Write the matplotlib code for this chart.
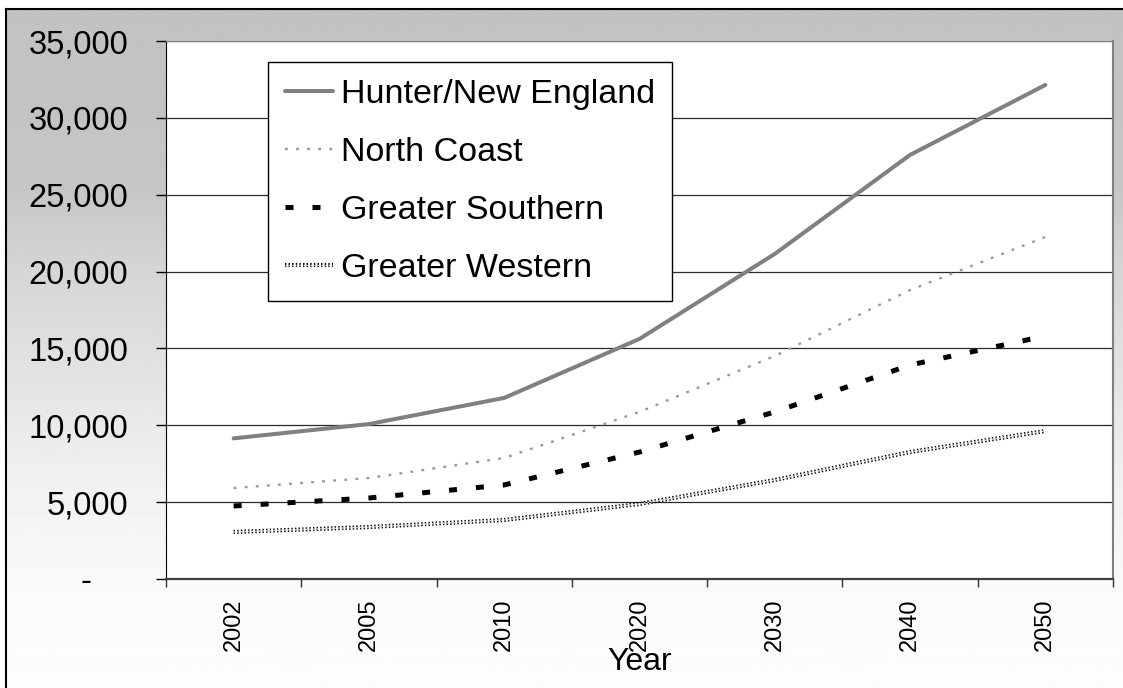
import matplotlib.pyplot as plt
import numpy as np
from matplotlib import patheffects as pe
from matplotlib.ticker import FuncFormatter, FixedLocator

plt.rcParams['font.family'] = ['Liberation Sans', 'DejaVu Sans']

# Data
years = ["2002", "2005", "2010", "2020", "2030", "2040", "2050"]
hunter = [9150, 10080, 11780, 15620, 21150, 27590, 32140]
north_coast = [5920, 6570, 7870, 10870, 14510, 18800, 22250]
greater_southern = [4750, 5270, 6120, 8260, 10870, 13920, 15810]
greater_western = [3060, 3380, 3840, 4880, 6440, 8260, 9630]

fig = plt.figure(figsize=(11.23, 6.88), dpi=100)
fig.patch.set_facecolor('white')

# grey gradient background with a black frame on the left/top
bg = fig.add_axes([6 / 1123, 0, 1 - 6 / 1123, 1 - 9 / 688], zorder=-5)
rows = np.arange(688)
shade = np.interp(rows, [0, 180, 262, 425, 500, 600, 688],
                  [0.76, 0.775, 0.835, 0.918, 0.953, 0.984, 0.992])
bg.imshow(np.repeat(shade[:, None], 2, axis=1), cmap='gray', vmin=0, vmax=1,
          aspect='auto', extent=[0, 1, 0, 1])
bg.set_xticks([])
bg.set_yticks([])
for side in ['right', 'bottom']:
    bg.spines[side].set_visible(False)
for side in ['left', 'top']:
    bg.spines[side].set_linewidth(1.5)
    bg.spines[side].set_color('black')

ax = fig.add_axes([166 / 1123, 1 - 579 / 688, (1113 - 166) / 1123, (579 - 41) / 688])
ax.set_facecolor('white')

x = np.arange(len(years))
ax.plot(x, hunter, color='#808080', lw=2.9, solid_capstyle='round',
        label='Hunter/New England', zorder=3)
ax.plot(x, north_coast, color='#9a9a9a', lw=1.7, linestyle=(0, (1.2, 3.5)),
        label='North Coast', zorder=3)
ax.plot(x, greater_southern, color='black', lw=3.6, linestyle=(0, (1.6, 3.8)),
        label='Greater Southern', zorder=3)
ax.plot(x, greater_western, color='#e0e0e0', lw=1.0, linestyle=(0, (1, 1.6)),
        path_effects=[pe.Stroke(linewidth=3.0, foreground='black'), pe.Normal()],
        label='Greater Western', zorder=3)

ax.set_xlim(-0.5, len(years) - 0.5)
ax.set_ylim(0, 35000)
ax.set_yticks(np.arange(0, 35001, 5000))
ax.yaxis.set_major_formatter(FuncFormatter(lambda v, p: '-    ' if v == 0 else f'{v:,.0f}'))
ax.yaxis.grid(True, color='#2a2a2a', lw=0.9)
ax.set_axisbelow(True)

ax.set_xticks(x)
ax.set_xticklabels(years, rotation=90, fontsize=17)
ax.xaxis.set_minor_locator(FixedLocator(np.arange(-0.5, len(years), 1.0)))
ax.tick_params(axis='x', which='major', length=0, pad=14)
ax.tick_params(axis='x', which='minor', length=6, width=1, color='#333333')
ax.tick_params(axis='y', length=7, width=1, labelsize=23.5, pad=20)

ax.spines['left'].set_color('black')
ax.spines['bottom'].set_color('#404040')
ax.spines['bottom'].set_linewidth(1.6)
ax.spines['top'].set_color('#808080')
ax.spines['right'].set_color('#808080')
ax.spines['right'].set_linewidth(1.5)

fig.text(640 / 1123, 1 - 662 / 688, 'Year', fontsize=23, ha='center', va='center')

leg = ax.legend(loc='upper left', bbox_to_anchor=(268 / 1123, 1 - 62 / 688),
                bbox_transform=fig.transFigure, fontsize=24.5, frameon=True,
                fancybox=False, edgecolor='black', framealpha=1,
                handlelength=1.4, handletextpad=0.25, labelspacing=0.79,
                borderpad=0.5, borderaxespad=0)
leg.get_frame().set_linewidth(1.0)

fig.savefig('out.png', dpi=100)
